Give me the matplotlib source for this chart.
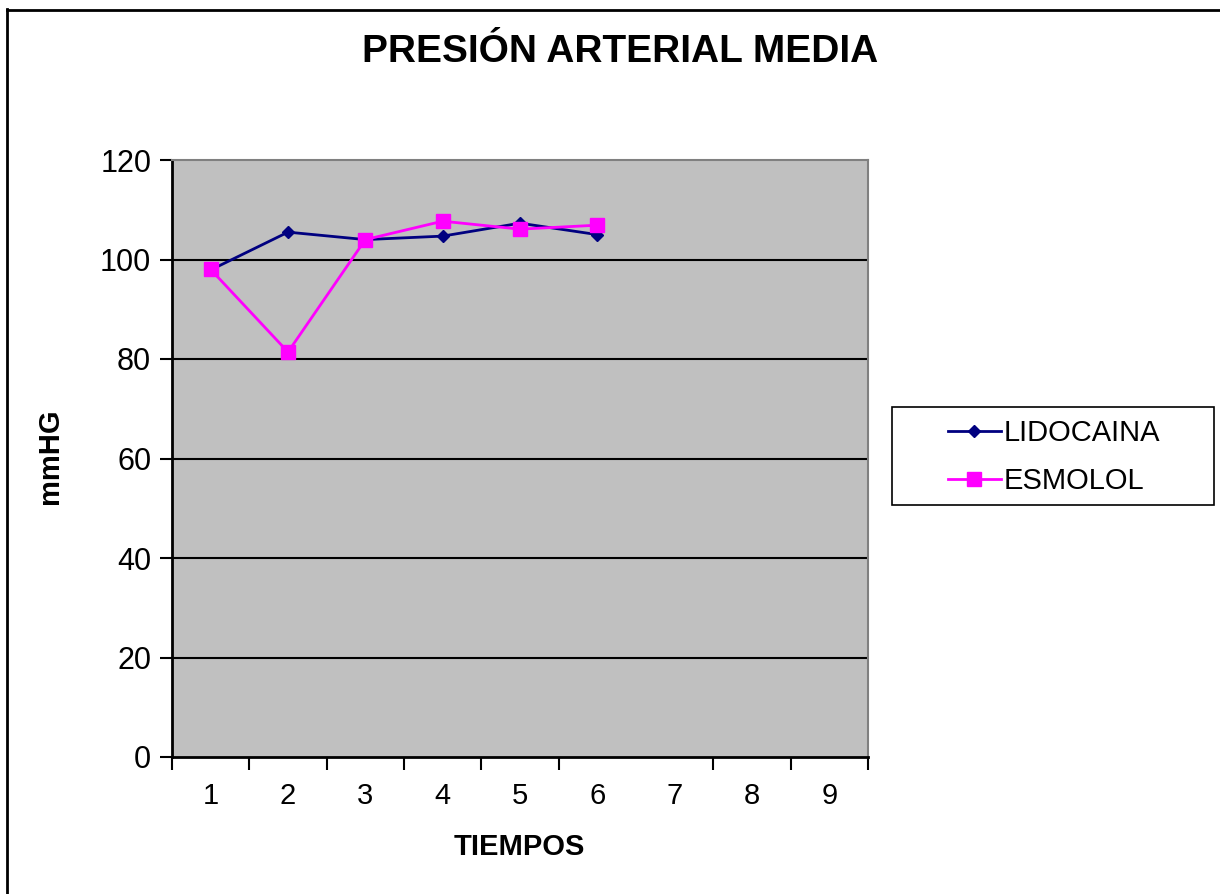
import matplotlib
matplotlib.use("Agg")
import matplotlib.pyplot as plt
from matplotlib.lines import Line2D
from matplotlib.patches import Rectangle

plt.rcParams['font.family'] = ['Liberation Sans', 'DejaVu Sans']

categories = ["1", "2", "3", "4", "5", "6", "7", "8", "9"]
lidocaina = [97.9, 105.5, 104.0, 104.7, 107.3, 105.0]
esmolol = [98.0, 81.4, 104.0, 107.7, 106.1, 106.9]
yticks = [0, 20, 40, 60, 80, 100, 120]

fig = plt.figure(figsize=(12.2, 8.94), dpi=100)
ax = fig.add_axes([172/1220, 1-757/894, (868-172)/1220, (757-160)/894])
ax.set_facecolor('#C0C0C0')

xpos = list(range(1, len(categories)+1))
ax.plot(xpos[:len(lidocaina)], lidocaina, color='#000080', lw=2, marker='D', ms=6, label='LIDOCAINA', zorder=3)
ax.plot(xpos[:len(esmolol)], esmolol, color='#FF00FF', lw=2, marker='s', ms=10, label='ESMOLOL', zorder=4)

ax.set_xlim(0.5, len(categories)+0.5)
ax.set_ylim(0, 120)
ax.set_yticks(yticks)
ax.set_yticklabels([str(v) for v in yticks], fontsize=22)
for v in yticks[1:-1]:
    ax.axhline(v, color='black', lw=1.5, zorder=1)

ax.set_xticks(xpos)
ax.set_xticklabels(categories, fontsize=21)
ax.tick_params(axis='x', length=0, pad=18)
bounds = [b + 0.5 for b in range(0, len(categories)+1) if b != 6]
ax.set_xticks(bounds, minor=True)
ax.tick_params(axis='x', which='minor', length=9, width=1.5, color='black')
ax.tick_params(axis='y', length=9, width=1.5, pad=6)

for s in ['top', 'right']:
    ax.spines[s].set_color('#808080')
    ax.spines[s].set_linewidth(1.5)
for s in ['left', 'bottom']:
    ax.spines[s].set_color('black')
    ax.spines[s].set_linewidth(2)

fig.text(519/1220, 1-847/894, 'TIEMPOS', fontsize=21, fontweight='bold', ha='center', va='center')
fig.text(50/1220, 1-456/894, 'mmHG', fontsize=21, fontweight='bold', ha='center', va='center', rotation=90)

fig.text(620/1220, 1-52/894, 'PRESIÓN ARTERIAL MEDIA', fontsize=28, fontweight='bold',
         ha='center', va='center')

fig.add_artist(Rectangle((892/1220, 1-505/894), (1214-892)/1220, (505-407)/894,
                         transform=fig.transFigure, facecolor='white', edgecolor='black', lw=1.2))
leg = fig.legend(loc='center', bbox_to_anchor=(1054/1220, 1-457/894), fontsize=21,
                 frameon=False, handlelength=1.8,
                 handletextpad=0.1, borderpad=0.6, labelspacing=0.7, borderaxespad=0)

fig.add_artist(Line2D([7/1220, 7/1220], [0, 1-9/894], color='black', lw=2, transform=fig.transFigure))
fig.add_artist(Line2D([7/1220, 1], [1-9.5/894, 1-9.5/894], color='black', lw=2, transform=fig.transFigure))

fig.savefig('out.png', dpi=100)
